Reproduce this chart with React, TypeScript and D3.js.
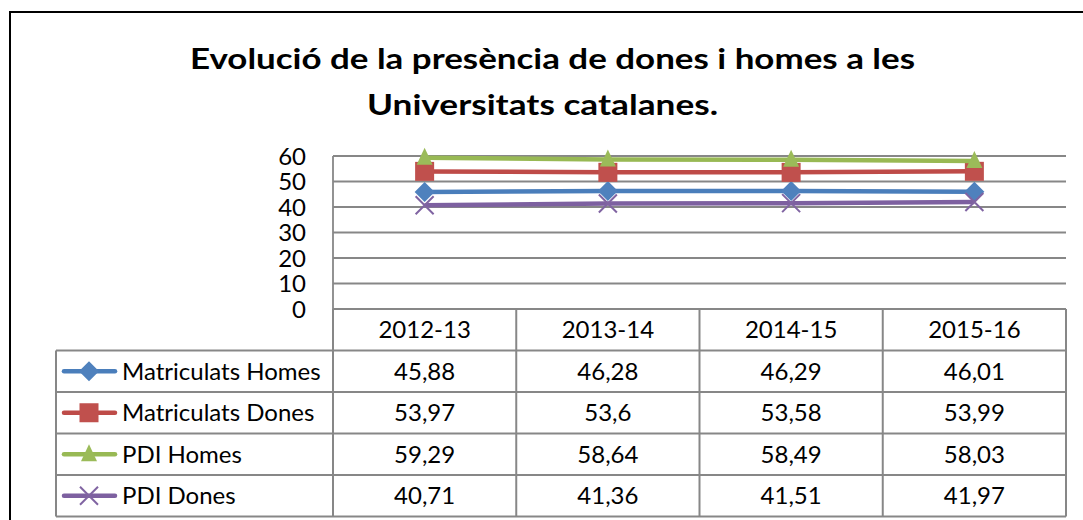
import * as d3 from 'd3';
import { useEffect, useRef } from 'react';

const categories = ['2012-13', '2013-14', '2014-15', '2015-16'];
const seriesNames = ['Matriculats Homes', 'Matriculats Dones', 'PDI Homes', 'PDI Dones'];
const matriculatsHomes = [45.88, 46.28, 46.29, 46.01];
const matriculatsDones = [53.97, 53.6, 53.58, 53.99];
const pdiHomes = [59.29, 58.64, 58.49, 58.03];
const pdiDones = [40.71, 41.36, 41.51, 41.97];
const yTicks = [0, 10, 20, 30, 40, 50, 60];
const tableLabels = ['45,88', '46,28', '46,29', '46,01', '53,97', '53,6', '53,58', '53,99', '59,29', '58,64', '58,49', '58,03', '40,71', '41,36', '41,51', '41,97'];

const seriesValues = [matriculatsHomes, matriculatsDones, pdiHomes, pdiDones];
const lineColors = ['#4a7ebb', '#be4b48', '#98b954', '#7d60a0'];
const markerColors = ['#4f81bd', '#c0504d', '#9bbb59', '#8064a2'];
const markerKinds = ['diamond', 'square', 'triangle', 'x'];

const W = 1083;
const H = 520;
const FONT = 'Lato, "Open Sans", sans-serif';
const GRID = '#878787';
const FS = 24;

// draws one marker at (cx, cy)
const drawMarker = (g, kind, cx, cy, color) => {
  if (kind === 'diamond') {
    g.append('path').attr('d', `M${cx},${cy - 10}L${cx + 10},${cy}L${cx},${cy + 10}L${cx - 10},${cy}Z`).attr('fill', color);
  } else if (kind === 'square') {
    g.append('rect').attr('x', cx - 9.5).attr('y', cy - 9.5).attr('width', 19).attr('height', 19).attr('fill', color);
  } else if (kind === 'triangle') {
    g.append('path').attr('d', `M${cx},${cy - 10}L${cx + 8},${cy + 7}L${cx - 8},${cy + 7}Z`).attr('fill', color);
  } else {
    g.append('path')
      .attr('d', `M${cx - 9},${cy - 9}L${cx + 9},${cy + 9}M${cx + 9},${cy - 9}L${cx - 9},${cy + 9}`)
      .attr('stroke', color).attr('stroke-width', 2).attr('fill', 'none');
  }
};

const App = () => {
  const svgRef = useRef(null);

  useEffect(() => {
    document.body.style.margin = '0';
    document.body.style.overflow = 'hidden';
    const svg = d3.select(svgRef.current);
    svg.selectAll('*').remove();

    const x = d3.scaleBand().domain(categories).range([333, 1066]);
    const y = d3.scaleLinear().domain([0, 60]).range([309, 156]);
    const rowH = 41.5;
    const legendLeft = 56;

    // outer chart border (right and bottom edges fall outside the view)
    svg.append('path').attr('d', 'M10,540V12H1100').attr('fill', 'none')
      .attr('stroke', '#000').attr('stroke-width', 2);

    // title
    const title = svg.append('g').attr('font-family', FONT).attr('font-weight', 700).attr('font-size', 29).attr('fill', '#000');
    title.append('text').attr('x', 190).attr('y', 68.5).attr('textLength', 725).attr('lengthAdjust', 'spacingAndGlyphs')
      .text('Evolució de la presència de dones i homes a les');
    title.append('text').attr('x', 367).attr('y', 114.5).attr('textLength', 351).attr('lengthAdjust', 'spacingAndGlyphs')
      .text('Universitats catalanes.');

    // gridlines
    svg.append('g').selectAll('line').data(yTicks.filter((t) => t > 0)).enter().append('line')
      .attr('x1', 333).attr('x2', 1066).attr('y1', (d) => y(d)).attr('y2', (d) => y(d))
      .attr('stroke', GRID).attr('stroke-width', 1.8);

    // y axis line
    svg.append('line').attr('x1', 333).attr('x2', 333).attr('y1', y(60)).attr('y2', y(0))
      .attr('stroke', GRID).attr('stroke-width', 1.8);

    // y labels
    svg.append('g').selectAll('text').data(yTicks).enter().append('text')
      .attr('x', 306).attr('y', (d) => y(d) + 8.5).attr('text-anchor', 'end')
      .attr('font-family', FONT).attr('font-size', FS).attr('fill', '#000').text((d) => d);

    // series lines and markers
    const line = d3.line().x((d, i) => x(categories[i]) + x.bandwidth() / 2).y((d) => y(d));
    seriesValues.forEach((vals, s) => {
      const g = svg.append('g');
      g.append('path').attr('d', line(vals)).attr('fill', 'none')
        .attr('stroke', lineColors[s]).attr('stroke-width', 4.5).attr('stroke-linejoin', 'round');
      vals.forEach((v, i) => drawMarker(g, markerKinds[s], x(categories[i]) + x.bandwidth() / 2, y(v), markerColors[s]));
    });

    // data table
    const table = svg.append('g');
    const top = y(0);
    const bottom = top + rowH * 5;
    table.append('line').attr('x1', 333).attr('x2', 1066).attr('y1', top).attr('y2', top)
      .attr('stroke', GRID).attr('stroke-width', 2);
    for (let r = 1; r <= 5; r++) {
      table.append('line').attr('x1', legendLeft).attr('x2', 1066).attr('y1', top + r * rowH).attr('y2', top + r * rowH)
        .attr('stroke', GRID).attr('stroke-width', 2);
    }
    table.append('line').attr('x1', legendLeft).attr('x2', legendLeft).attr('y1', top + rowH).attr('y2', bottom)
      .attr('stroke', GRID).attr('stroke-width', 2);
    categories.forEach((c) => {
      table.append('line').attr('x1', x(c)).attr('x2', x(c)).attr('y1', top).attr('y2', bottom)
        .attr('stroke', GRID).attr('stroke-width', 2);
    });
    table.append('line').attr('x1', 1066).attr('x2', 1066).attr('y1', top).attr('y2', bottom)
      .attr('stroke', GRID).attr('stroke-width', 2);

    // header
    table.selectAll('.hdr').data(categories).enter().append('text').attr('class', 'hdr')
      .attr('x', (d) => x(d) + x.bandwidth() / 2).attr('y', top + rowH / 2 + 8.5).attr('text-anchor', 'middle')
      .attr('font-family', FONT).attr('font-size', FS).attr('fill', '#000').text((d) => d);

    // rows
    seriesNames.forEach((name, s) => {
      const cy = top + rowH * (s + 1) + rowH / 2;
      table.append('line').attr('x1', 64).attr('x2', 115).attr('y1', cy).attr('y2', cy)
        .attr('stroke', lineColors[s]).attr('stroke-width', 4.5).attr('stroke-linecap', 'round');
      drawMarker(table, markerKinds[s], 89, cy, markerColors[s]);
      table.append('text').attr('x', 122).attr('y', cy + 8.5).attr('font-family', FONT).attr('font-size', FS)
        .attr('fill', '#000').text(name);
      categories.forEach((c, i) => {
        table.append('text').attr('x', x(c) + x.bandwidth() / 2).attr('y', cy + 8.5).attr('text-anchor', 'middle')
          .attr('font-family', FONT).attr('font-size', FS).attr('fill', '#000').text(tableLabels[s * 4 + i]);
      });
    });
  }, []);

  return <svg ref={svgRef} width={W} height={H} style={{ position: 'absolute', left: 0, top: 0 }} />;
};

export default App;
